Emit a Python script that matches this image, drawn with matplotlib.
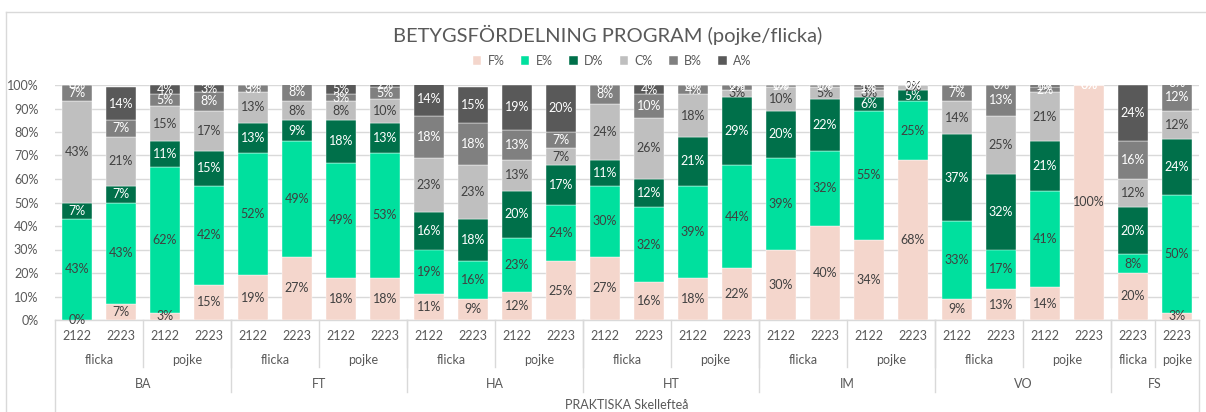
import numpy as np
import matplotlib
matplotlib.use("Agg")
import matplotlib.pyplot as plt
from matplotlib.transforms import blended_transform_factory
from matplotlib.lines import Line2D

# ---- data ----
programs = ["BA", "FT", "HA", "HT", "IM", "VO", "FS"]
genders = ["flicka", "pojke", "flicka", "pojke", "flicka", "pojke", "flicka", "pojke",
           "flicka", "pojke", "flicka", "pojke", "flicka", "pojke"]
gender_sizes = [2, 2, 2, 2, 2, 2, 2, 2, 2, 2, 2, 2, 1, 1]
program_sizes = [4, 4, 4, 4, 4, 4, 2]
years = ["2122", "2223"] * 12 + ["2223", "2223"]
top_label = "PRAKTISKA Skellefteå"

nan = np.nan
F = [0, 7, 3, 15, 19, 27, 18, 18, 11, 9, 12, 25, 27, 16, 18, 22, 30, 40, 34, 68, 9, 13, 14, 100, 20, 3]
E = [43, 43, 62, 42, 52, 49, 49, 53, 19, 16, 23, 24, 30, 32, 39, 44, 39, 32, 55, 25, 33, 17, 41, nan, 8, 50]
D = [7, 7, 11, 15, 13, 9, 18, 13, 16, 18, 20, 17, 11, 12, 21, 29, 20, 22, 6, 5, 37, 32, 21, nan, 20, 24]
C = [43, 21, 15, 17, 13, 8, 8, 10, 23, 23, 13, 7, 24, 26, 18, 3, 10, 5, 3, 2, 14, 25, 21, nan, 12, 12]
B = [7, 7, 5, 8, 3, 8, 3, 5, 18, 18, 13, 7, 8, 10, 4, 2, 1, 1, 1, 0, 7, 13, 2, 0, 16, 12]
A = [0, 14, 4, 3, 0, 0, 5, 2, 14, 15, 19, 20, 0, 4, 0, 0, 0, 0, 1, 0, 1, 0, 1, 0, 24, 0]

series = [("F%", F, "#F4D6CC", "#404040"),
          ("E%", E, "#00E09E", "#404040"),
          ("D%", D, "#00704A", "white"),
          ("C%", C, "#BFBFBF", "#404040"),
          ("B%", B, "#808080", "white"),
          ("A%", A, "#595959", "white")]

FONT = ["Lato", "DejaVu Sans"]
plt.rcParams["font.family"] = FONT
TXT = "#595959"

fig = plt.figure(figsize=(12.06, 4.12), dpi=100)
W, H = 1206, 412
ax = fig.add_axes([55 / W, 1 - 320 / H, (1199 - 55) / W, (320 - 85) / H])

n = len(F)
x = np.arange(n)
bottom = np.zeros(n)
for name, vals, col, lcol in series:
    v = np.array(vals, dtype=float)
    h = np.nan_to_num(v)
    ax.bar(x, h / 100, bottom=bottom / 100, width=0.68, color=col, label=name,
           edgecolor="white", linewidth=0.3, zorder=3)
    for i in range(n):
        if np.isnan(v[i]):
            continue
        ax.text(x[i], (bottom[i] + h[i] / 2) / 100, f"{int(v[i])}%", ha="center",
                va="center", fontsize=9, color=lcol, zorder=5)
    bottom += h

ax.set_xlim(-0.5, n - 0.5)
ax.set_ylim(0, 1)
ax.set_yticks(np.arange(0, 1.01, 0.1))
ax.set_yticklabels([f"{int(round(t * 100))}%" for t in np.arange(0, 1.01, 0.1)],
                   fontsize=9, color=TXT)
ax.tick_params(axis="y", length=0, pad=12)
ax.tick_params(axis="x", length=0, labelbottom=False)
ax.grid(axis="y", color="#D9D9D9", linewidth=1, zorder=0)
for s in ["top", "right", "left"]:
    ax.spines[s].set_visible(False)
ax.spines["bottom"].set_color("#D9D9D9")
ax.spines["bottom"].set_linewidth(1)

# ---- multi-level category axis ----
tr = blended_transform_factory(ax.transData, ax.transAxes)
px = 1 / 235.0
y_year = -16 * px
y_gender = -40 * px
y_prog = -64 * px
y_top = -85 * px
end_gender = -47 * px
end_prog = -72 * px
end_all = -95 * px
lc = "#D9D9D9"

for i in range(n):
    ax.text(x[i], y_year, years[i], transform=tr, ha="center", va="center",
            fontsize=9, color=TXT, clip_on=False)

pos = 0
for g, s in zip(genders, gender_sizes):
    ax.text(pos + s / 2 - 0.5, y_gender, g, transform=tr, ha="center", va="center",
            fontsize=9, color=TXT, clip_on=False)
    pos += s
    if pos < n:
        ax.add_line(Line2D([pos - 0.5, pos - 0.5], [0, end_gender], transform=tr,
                           color=lc, linewidth=1, clip_on=False))

pos = 0
for p, s in zip(programs, program_sizes):
    ax.text(pos + s / 2 - 0.5, y_prog, p, transform=tr, ha="center", va="center",
            fontsize=9, color=TXT, clip_on=False)
    pos += s
    if pos < n:
        ax.add_line(Line2D([pos - 0.5, pos - 0.5], [0, end_prog], transform=tr,
                           color=lc, linewidth=1, clip_on=False))

for xe in [-0.5, n - 0.5]:
    ax.add_line(Line2D([xe, xe], [0, end_all], transform=tr, color=lc,
                       linewidth=1, clip_on=False))

ax.text((n - 1) / 2, y_top, top_label, transform=tr, ha="center", va="center",
        fontsize=9, color=TXT, clip_on=False)

# ---- title and legend ----
fig.text(608 / W, 1 - 35 / H, "BETYGSFÖRDELNING PROGRAM (pojke/flicka)",
         ha="center", va="center", fontsize=14.5, color=TXT)
leg = fig.legend(loc="center", bbox_to_anchor=(612 / W, 1 - 61 / H), ncol=6,
                 frameon=False, fontsize=9, handlelength=0.7, handleheight=0.7,
                 columnspacing=1.3, handletextpad=0.5, labelcolor=TXT)

# chart border
fig.add_artist(Line2D([6 / W, 6 / W], [0, 1 - 12 / H], transform=fig.transFigure,
                      color="#D9D9D9", linewidth=1))
fig.add_artist(Line2D([6 / W, 1], [1 - 12 / H, 1 - 12 / H], transform=fig.transFigure,
                      color="#D9D9D9", linewidth=1))

fig.savefig("out.png", dpi=100)
